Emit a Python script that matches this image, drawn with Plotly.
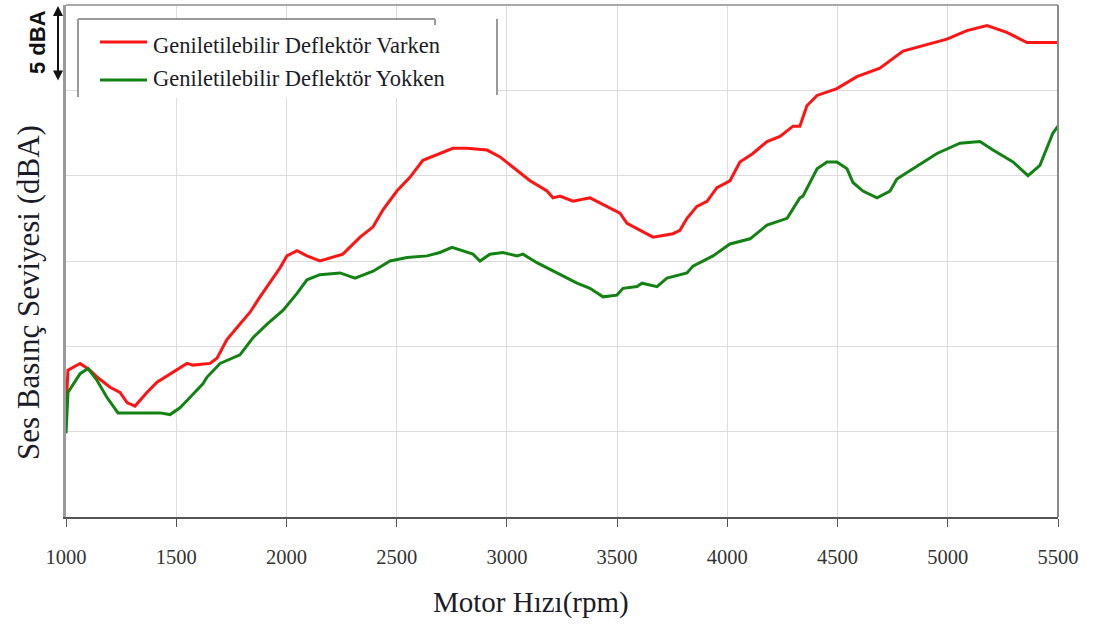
import plotly.graph_objects as go

# Motor speed (rpm) and sound pressure level (dBA) for both configurations
rpm_varken = [1000, 1009, 1064, 1109, 1141, 1200, 1245, 1277, 1313, 1367, 1413, 1472,
              1549, 1576, 1653, 1685, 1730, 1776, 1835, 1880, 1939, 1971, 2002, 2048,
              2093, 2152, 2256, 2334, 2393, 2438, 2501, 2560, 2619, 2696, 2755, 2819,
              2910, 2969, 3028, 3105, 3182, 3209, 3241, 3300, 3377, 3454, 3513, 3545,
              3604, 3663, 3753, 3785, 3817, 3862, 3908, 3953, 4012, 4057, 4116, 4180,
              4239, 4298, 4329, 4361, 4407, 4497, 4588, 4692, 4797, 4906, 4996, 5087,
              5178, 5268, 5359, 5450, 5500]
spl_varken = [66.3, 68.6, 69.0, 68.6, 68.2, 67.6, 67.3, 66.7, 66.5, 67.3, 67.9, 68.4,
              69.0, 68.9, 69.0, 69.3, 70.4, 71.1, 72.0, 72.9, 74.0, 74.6, 75.3, 75.6,
              75.3, 75.0, 75.4, 76.4, 77.0, 78.0, 79.1, 79.9, 80.9, 81.3, 81.6, 81.6,
              81.5, 81.1, 80.5, 79.7, 79.1, 78.7, 78.8, 78.5, 78.7, 78.2, 77.8, 77.2,
              76.8, 76.4, 76.6, 76.8, 77.5, 78.2, 78.5, 79.3, 79.7, 80.8, 81.3, 82.0,
              82.3, 82.9, 82.9, 84.1, 84.7, 85.1, 85.8, 86.3, 87.3, 87.7, 88.0, 88.5,
              88.8, 88.4, 87.8, 87.8, 87.8]

rpm_yokken = [1000, 1009, 1064, 1100, 1141, 1186, 1236, 1381, 1426, 1472, 1517, 1562,
              1621, 1640, 1699, 1789, 1848, 1912, 1984, 2048, 2093, 2152, 2243, 2311,
              2393, 2470, 2547, 2638, 2696, 2751, 2801, 2846, 2878, 2923, 2982, 3046,
              3073, 3136, 3227, 3318, 3377, 3436, 3499, 3527, 3590, 3613, 3681, 3726,
              3817, 3844, 3935, 4012, 4103, 4180, 4271, 4329, 4343, 4407, 4452, 4497,
              4543, 4570, 4615, 4679, 4738, 4769, 4842, 4951, 5055, 5146, 5205, 5296,
              5364, 5418, 5477, 5500]
spl_yokken = [64.9, 67.3, 68.4, 68.7, 68.0, 67.0, 66.1, 66.1, 66.1, 66.0, 66.4, 67.0,
              67.8, 68.2, 69.0, 69.5, 70.5, 71.3, 72.1, 73.1, 73.9, 74.2, 74.3, 74.0,
              74.4, 75.0, 75.2, 75.3, 75.5, 75.8, 75.6, 75.4, 75.0, 75.4, 75.5, 75.3,
              75.4, 74.9, 74.3, 73.7, 73.4, 72.9, 73.0, 73.4, 73.5, 73.7, 73.5, 74.0,
              74.3, 74.7, 75.3, 76.0, 76.3, 77.1, 77.5, 78.7, 78.8, 80.4, 80.8, 80.8,
              80.4, 79.6, 79.1, 78.7, 79.1, 79.8, 80.4, 81.3, 81.9, 82.0, 81.5, 80.8,
              80.0, 80.6, 82.5, 82.9]

x_ticks = [1000, 1500, 2000, 2500, 3000, 3500, 4000, 4500, 5000, 5500]
series_names = ["Geniletilebilir Deflektör Varken", "Geniletilebilir Deflektör Yokken"]
x_title = "Motor Hızı(rpm)"
y_title = "Ses Basınç Seviyesi (dBA)"
scale_label = "5 dBA"

RED = "#ff1414"
GREEN = "#128312"
SERIF = "Liberation Serif, Times New Roman, serif"
TXT = "#1c1c28"

W, H = 1105, 628
L, R, T, B = 66, 1058, 5, 517


def px(xp):
    return (xp - L) / (R - L)


def py(yp):
    return 1 - (yp - T) / (B - T)


fig = go.Figure()
fig.add_trace(go.Scatter(x=rpm_varken, y=spl_varken, mode="lines", name=series_names[0],
                         line=dict(color=RED, width=3), showlegend=False))
fig.add_trace(go.Scatter(x=rpm_yokken, y=spl_yokken, mode="lines", name=series_names[1],
                         line=dict(color=GREEN, width=3), showlegend=False))

shapes = []
# legend panel
shapes.append(dict(type="rect", xref="paper", yref="paper", x0=px(79), x1=px(496),
                   y0=py(98), y1=py(20), fillcolor="white", line=dict(width=0), layer="above"))
gray = dict(color="#9a9a9a", width=2)
for (x0, y0, x1, y1) in [(78, 19, 435, 19), (78, 19, 78, 97), (435, 19, 435, 25), (497, 19, 497, 95)]:
    shapes.append(dict(type="line", xref="paper", yref="paper", x0=px(x0), x1=px(x1),
                       y0=py(y0), y1=py(y1), line=gray, layer="above"))
# frame: top and right borders
shapes.append(dict(type="line", xref="paper", yref="paper", x0=0, x1=1, y0=1, y1=1,
                   line=dict(color="#a8a8a8", width=2), layer="above"))
shapes.append(dict(type="line", xref="paper", yref="paper", x0=1, x1=1, y0=0, y1=1,
                   line=dict(color="#8a8a8a", width=2), layer="above"))
# legend samples
shapes.append(dict(type="line", xref="paper", yref="paper", x0=px(100), x1=px(147),
                   y0=py(42), y1=py(42), line=dict(color=RED, width=3), layer="above"))
shapes.append(dict(type="line", xref="paper", yref="paper", x0=px(100), x1=px(147),
                   y0=py(80), y1=py(80), line=dict(color=GREEN, width=3), layer="above"))

annotations = [
    dict(text=series_names[0], xref="paper", yref="paper", x=px(151), y=py(45),
         xanchor="left", yanchor="middle", showarrow=False, font=dict(family=SERIF, size=22.5, color=TXT)),
    dict(text=series_names[1], xref="paper", yref="paper", x=px(151), y=py(78),
         xanchor="left", yanchor="middle", showarrow=False, font=dict(family=SERIF, size=22.5, color=TXT)),
    dict(text=x_title, xref="paper", yref="paper", x=px(531), y=py(602),
         xanchor="center", yanchor="middle", showarrow=False, font=dict(family=SERIF, size=29, color=TXT)),
    dict(text=y_title, xref="paper", yref="paper", x=px(28), y=py(293), textangle=-90,
         xanchor="center", yanchor="middle", showarrow=False, font=dict(family=SERIF, size=31, color=TXT)),
    dict(text="<b>" + scale_label + "</b>", xref="paper", yref="paper", x=px(37), y=py(42), textangle=-90,
         xanchor="center", yanchor="middle", showarrow=False,
         font=dict(family="Liberation Sans, Arial, sans-serif", size=22, color="#111")),
    # 5 dBA scale arrow spanning one grid step
    dict(text="", xref="paper", yref="paper", x=px(58), y=py(6), axref="pixel", ayref="pixel",
         ax=0, ay=76, showarrow=True, arrowhead=2, arrowside="end+start", arrowsize=1,
         arrowwidth=2, arrowcolor="#111"),
]

fig.update_layout(
    width=W, height=H,
    margin=dict(l=L, r=W - R, t=T, b=H - B),
    paper_bgcolor="white", plot_bgcolor="white",
    showlegend=False,
    shapes=shapes,
    annotations=annotations,
    xaxis=dict(range=[1000, 5500], tickvals=x_ticks, ticktext=[str(v) for v in x_ticks],
               showgrid=True, gridcolor="#dcdcdc", gridwidth=1,
               showline=True, linecolor="#555", linewidth=2,
               ticks="outside", ticklen=8, tickcolor="#555", tickwidth=1,
               ticklabelstandoff=12,
               tickfont=dict(family=SERIF, size=20.5, color="#333"), zeroline=False),
    yaxis=dict(range=[60, 90], dtick=5, tick0=60, showticklabels=False,
               showgrid=True, gridcolor="#dcdcdc", gridwidth=1,
               showline=True, linecolor="#9a9a9a", linewidth=3, ticks="", zeroline=False),
)

fig.write_html("out.html")
